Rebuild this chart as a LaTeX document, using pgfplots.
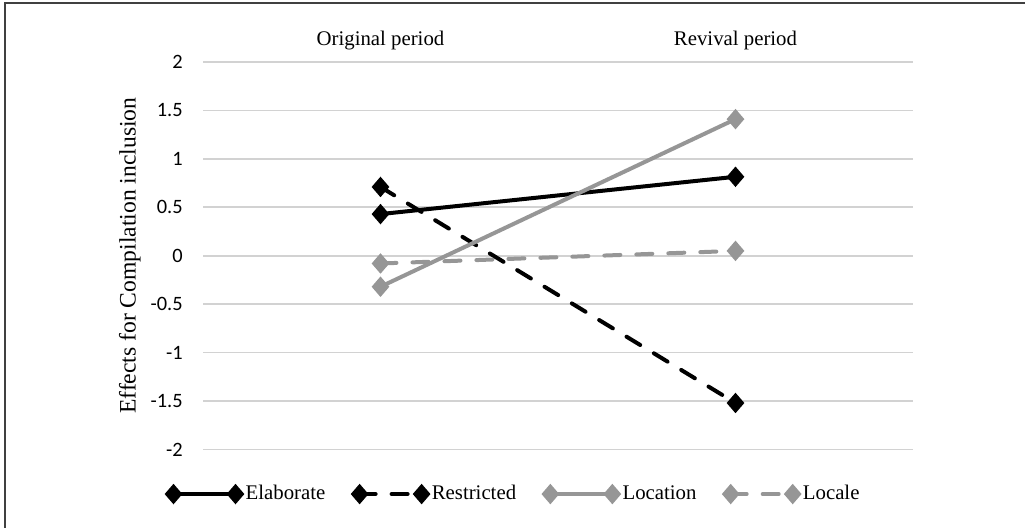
\documentclass[border=0pt]{standalone}
\usepackage{pgfplots}
\pgfplotsset{compat=1.18}
\usepackage{fontspec}
\setmainfont{Liberation Serif}
\newfontfamily\carlito{Carlito}
\definecolor{lgray}{RGB}{150,150,150}
\definecolor{gridc}{RGB}{210,210,210}
\begin{document}
\begin{tikzpicture}
\useasboundingbox (0,0) rectangle (512.5pt,264pt);
\draw[line width=1.2pt, black!75] (2.5pt,0pt) -- (2.5pt,262.5pt) -- (512.5pt,262.5pt);
\begin{axis}[
  at={(101.5pt,39.25pt)}, anchor=south west,
  scale only axis, width=355pt, height=193.75pt,
  xmin=-0.5, xmax=1.5, ymin=-2, ymax=2,
  axis line style={draw=none},
  xtick={0,1}, xticklabels={Original period, Revival period},
  xticklabel pos=upper,
  xticklabel style={font=\fontsize{10.4}{12}\selectfont, anchor=base, inner sep=0pt, yshift=8pt},
  ytick={-2,-1.5,-1,-0.5,0,0.5,1,1.5,2},
  yticklabels={-2,-1.5,-1,-0.5,0,0.5,1,1.5,2},
  yticklabel style={font=\carlito\fontsize{10.2}{12}\selectfont, anchor=east, inner sep=0pt, xshift=-10pt},
  major tick length=0pt,
  ymajorgrids, grid style={gridc, line width=0.8pt},
  ylabel={Effects for Compilation inclusion},
  every axis y label/.style={at={(axis description cs:-0.103,0.5)}, rotate=90, anchor=center, font=\fontsize{11.8}{14}\selectfont},
  legend columns=4,
  legend style={at={(axis description cs:0.44,-0.115)}, anchor=center, draw=none, fill=none,
    font=\fontsize{10.4}{12}\selectfont, inner sep=0pt,
    /tikz/every even column/.append style={column sep=12pt}},
  legend image code/.code={\draw[#1] plot coordinates {(0pt,0pt) (31pt,0pt)};},
  every axis plot/.append style={line width=2pt, mark=diamond*, mark size=3.6pt, mark options={solid, xscale=1.15}},
]
\addplot[black] coordinates {(0,0.43) (1,0.815)};
\addlegendentry{Elaborate}
\addplot[black, dash pattern=on 8pt off 8pt, line cap=round] coordinates {(0,0.71) (1,-1.52)};
\addlegendentry{Restricted}
\addplot[lgray] coordinates {(0,-0.32) (1,1.41)};
\addlegendentry{Location}
\addplot[lgray, dash pattern=on 8pt off 8pt, line cap=round] coordinates {(0,-0.08) (1,0.05)};
\addlegendentry{Locale}
\end{axis}
\end{tikzpicture}
\end{document}
